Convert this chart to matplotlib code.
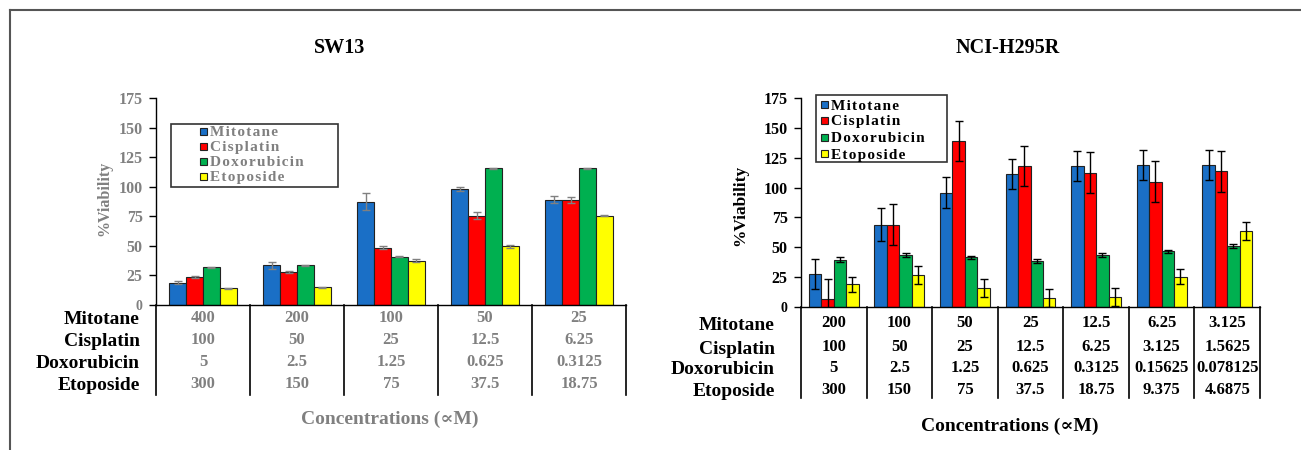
import matplotlib
matplotlib.use("Agg")
import matplotlib.pyplot as plt
import numpy as np
from matplotlib.patches import Rectangle
from matplotlib.lines import Line2D

plt.rcParams['font.family'] = ['Liberation Serif', 'DejaVu Serif']
plt.rcParams['font.weight'] = 'bold'

drugs = ["Mitotane", "Cisplatin", "Doxorubicin", "Etoposide"]
colors = ["#1a6fc6", "#ff0000", "#00b050", "#ffff00"]

# SW13
sw_mitotane = [19, 33.5, 87.5, 98, 89]
sw_cisplatin = [23.5, 28, 48.5, 75.5, 89]
sw_doxorubicin = [32, 33.5, 41, 115.5, 115.5]
sw_etoposide = [14, 15, 37.5, 49.5, 75.5]
sw_mitotane_err = [1, 3, 7.5, 2, 3]
sw_cisplatin_err = [1, 1, 1.5, 3, 2.5]
sw_doxorubicin_err = [0.5, 0.5, 0.5, 0.5, 0.5]
sw_etoposide_err = [0.5, 0.5, 1, 1, 0.5]
sw_conc = [["400", "200", "100", "50", "25"],
           ["100", "50", "25", "12.5", "6.25"],
           ["5", "2.5", "1.25", "0.625", "0.3125"],
           ["300", "150", "75", "37.5", "18.75"]]

# NCI-H295R
h_mitotane = [27.5, 69, 95.5, 111.5, 118, 119, 119]
h_cisplatin = [6.5, 69, 139, 118, 112.5, 105, 113.5]
h_doxorubicin = [39.5, 43.5, 41.5, 38.5, 43.5, 46.5, 51]
h_etoposide = [19, 26.5, 16, 7.5, 8.5, 25.5, 63.5]
h_mitotane_err = [12.5, 13.5, 13, 12.5, 12.5, 12.5, 12.5]
h_cisplatin_err = [17, 17, 17, 17, 17, 17, 17]
h_doxorubicin_err = [2, 1.5, 1.5, 1.5, 1.5, 1.5, 2]
h_etoposide_err = [6.5, 7.5, 7.5, 7.5, 7.5, 6.5, 7.5]
h_conc = [["200", "100", "50", "25", "12.5", "6.25", "3.125"],
          ["100", "50", "25", "12.5", "6.25", "3.125", "1.5625"],
          ["5", "2.5", "1.25", "0.625", "0.3125", "0.15625", "0.078125"],
          ["300", "150", "75", "37.5", "18.75", "9.375", "4.6875"]]

yticks = [0, 25, 50, 75, 100, 125, 150, 175]

W, H = 1301, 450
fig = plt.figure(figsize=(W / 100, H / 100), dpi=100)

# outer frame lines
fig.add_artist(Line2D([10 / W, 1.0], [1 - 10 / H, 1 - 10 / H], color="#555555", lw=1.5))
fig.add_artist(Line2D([10 / W, 10 / W], [0, 1 - 10 / H], color="#555555", lw=1.5))


def fx(px):
    return px / W


def fy(py):
    return 1 - py / H


def spaced(s):
    return "\u200a".join(s)


def panel(x0, x1, ytop, ybot, vals, errs, conc, title, title_xy, txtcol, errcol,
          row_ys, xlabel_xy, table_bot, leg_box, leg_rows, leg_hx, ylab_xy, ylab_size,
          rowlab_x, barw, valsize):
    ax = fig.add_axes([fx(x0), fy(ybot), (x1 - x0) / W, (ybot - ytop) / H])
    n = len(vals[0])
    x = np.arange(n)
    offs = (np.arange(4) - 1.5) * barw
    for i in range(4):
        ax.bar(x + offs[i], vals[i], width=barw, color=colors[i], edgecolor="#222222",
               linewidth=0.8, label=drugs[i], zorder=2)
        ax.errorbar(x + offs[i], vals[i], yerr=errs[i], fmt="none", ecolor=errcol,
                    elinewidth=1, capsize=3, capthick=1, zorder=3)
    ax.set_xlim(-0.5, n - 0.5)
    ax.set_ylim(0, 175)
    ax.set_yticks(yticks)
    ax.set_yticklabels([str(v) for v in yticks], color=txtcol, fontsize=11.5, fontweight="bold")
    ax.get_yticklabels()[0].set_fontsize(10)
    ax.tick_params(axis="y", direction="out", length=5, width=1, color="black", pad=4.5)
    ax.set_xticks([])
    for s in ["top", "right"]:
        ax.spines[s].set_visible(False)
    for s in ["left", "bottom"]:
        ax.spines[s].set_color("black")
        ax.spines[s].set_linewidth(1)
    h = ybot - ytop
    tr = ax.get_xaxis_transform()
    # table lines
    for b in np.arange(n + 1) - 0.5:
        ax.plot([b, b], [0, -(table_bot - ybot) / h], color="black", lw=1.2,
                transform=tr, clip_on=False)
    for r in range(4):
        ya = -(row_ys[r] - ybot) / h
        for c in range(n):
            ax.text(c, ya, conc[r][c], transform=tr, ha="center", va="center",
                    color=txtcol, fontsize=valsize, fontweight="bold")
        fig.text(fx(rowlab_x), fy(row_ys[r] + 2), drugs[r], ha="right", va="center",
                 color="black", fontsize=14, fontweight="bold")
    fig.text(fx(title_xy[0]), fy(title_xy[1]), title, ha="center", va="center",
             fontsize=14.5, fontweight="bold")
    fig.text(fx(xlabel_xy[0]), fy(xlabel_xy[1]), "Concentrations (\u221dM)", ha="center",
             va="center", color=txtcol, fontsize=14, fontweight="bold")
    fig.text(fx(ylab_xy[0]), fy(ylab_xy[1]), "%Viability", rotation=90, ha="center",
             va="center", color=txtcol, fontsize=ylab_size, fontweight="bold")
    # legend box and entries
    bx0, by0, bx1, by1 = leg_box
    fig.add_artist(Rectangle((fx(bx0), fy(by1)), (bx1 - bx0) / W, (by1 - by0) / H,
                             facecolor="white", edgecolor="#333333", linewidth=1.2,
                             transform=fig.transFigure, zorder=5))
    sq = 7
    for i in range(4):
        yy = leg_rows[i]
        fig.add_artist(Rectangle((fx(leg_hx), fy(yy + sq / 2)), sq / W, sq / H,
                                 facecolor=colors[i], edgecolor="#222222", linewidth=0.8,
                                 transform=fig.transFigure, zorder=6))
        fig.text(fx(leg_hx + sq + 3), fy(yy + 2), spaced(drugs[i]), ha="left",
                 va="center", color=txtcol, fontsize=11, fontweight="bold", zorder=7)
    return ax


panel(156, 626, 98, 305,
      [sw_mitotane, sw_cisplatin, sw_doxorubicin, sw_etoposide],
      [sw_mitotane_err, sw_cisplatin_err, sw_doxorubicin_err, sw_etoposide_err],
      sw_conc, "SW13", (340, 48), "#808080", "#808080",
      [318, 340, 362, 384], (390, 419), 395, (171, 124, 338, 187),
      [131, 146, 161, 176], 200, (104, 198), 11.5, 140, 0.18, 12)

panel(801, 1260, 98, 307,
      [h_mitotane, h_cisplatin, h_doxorubicin, h_etoposide],
      [h_mitotane_err, h_cisplatin_err, h_doxorubicin_err, h_etoposide_err],
      h_conc, "NCI-H295R", (1008, 48), "black", "black",
      [323, 347, 368, 390], (1010, 426), 398, (816, 95, 947, 162),
      [104, 120, 137, 153], 821, (740, 205), 12.5, 775, 0.19, 12)

fig.savefig("out.png", dpi=100)
